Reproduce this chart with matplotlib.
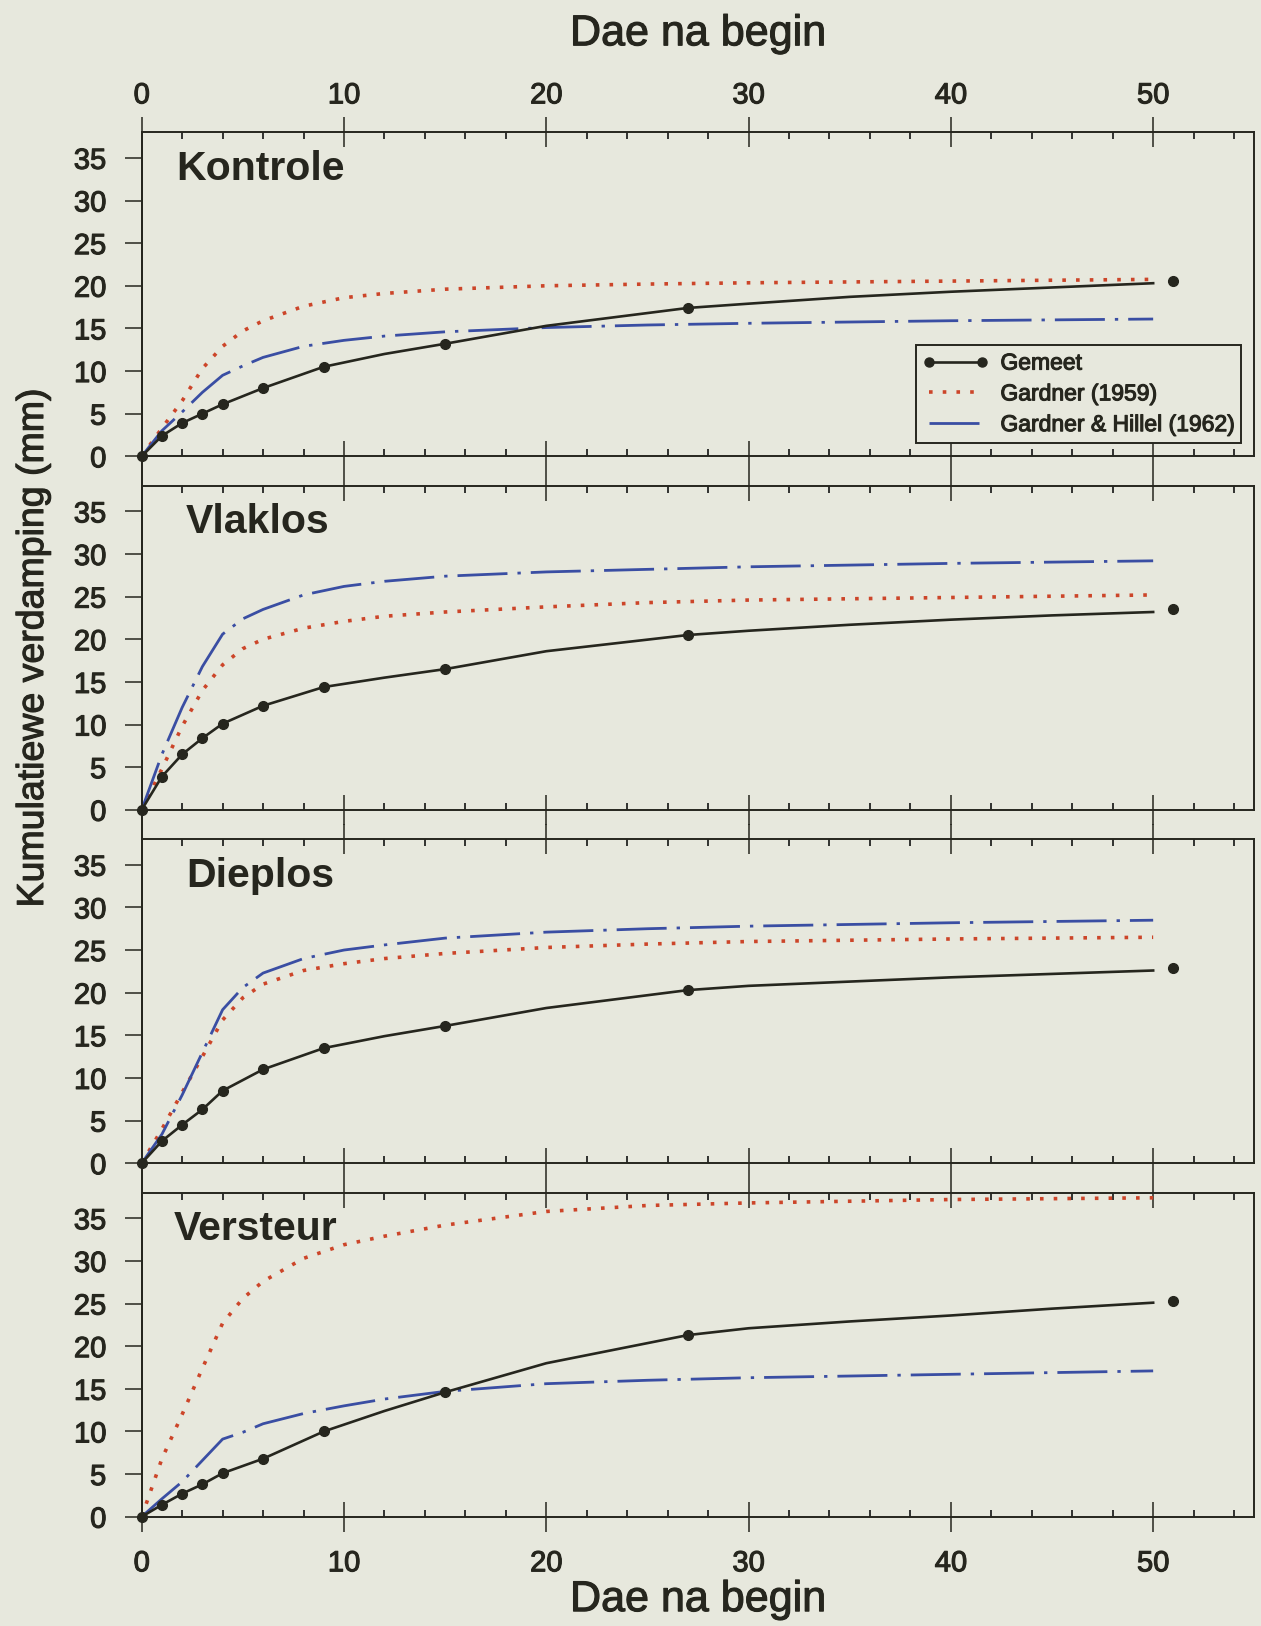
import numpy as np
import matplotlib.pyplot as plt
from matplotlib.lines import Line2D
from matplotlib import patheffects as pe

plt.rcParams['font.family'] = ['Liberation Sans', 'DejaVu Sans']

panele = ['Kontrole', 'Vlaklos', 'Dieplos', 'Versteur']

# gemete kumulatiewe verdamping (mm) op die meetdae
dae_gemeet = [0, 1, 2, 3, 4, 6, 9, 15, 27, 51]
gemeet_kontrole = [0, 2.4, 3.9, 5.0, 6.1, 8.0, 10.5, 13.2, 17.4, 20.6]
gemeet_vlaklos = [0, 3.9, 6.5, 8.4, 10.1, 12.2, 14.4, 16.5, 20.5, 23.5]
gemeet_dieplos = [0, 2.6, 4.5, 6.3, 8.5, 11.0, 13.5, 16.1, 20.3, 22.9]
gemeet_versteur = [0, 1.4, 2.7, 3.8, 5.1, 6.8, 10.0, 14.6, 21.3, 25.3]

# gladde lyn deur die metings, tot by dag 50
dae_lyn = [0, 1, 2, 3, 4, 6, 9, 12, 15, 20, 27, 30, 35, 40, 45, 50]
lyn_kontrole = [0, 2.4, 3.9, 5.0, 6.1, 8.0, 10.5, 12.0, 13.2, 15.3, 17.4, 17.9, 18.7, 19.3, 19.8, 20.3]
lyn_vlaklos = [0, 3.9, 6.5, 8.4, 10.1, 12.2, 14.4, 15.5, 16.5, 18.6, 20.5, 21.0, 21.7, 22.3, 22.8, 23.2]
lyn_dieplos = [0, 2.6, 4.5, 6.3, 8.5, 11.0, 13.5, 14.9, 16.1, 18.2, 20.3, 20.8, 21.3, 21.8, 22.2, 22.6]
lyn_versteur = [0, 1.4, 2.7, 3.8, 5.1, 6.8, 10.0, 12.4, 14.6, 18.0, 21.3, 22.1, 22.9, 23.6, 24.4, 25.1]

# modelvoorspellings
dae_model = [0, 1, 2, 3, 4, 5, 6, 8, 10, 12, 15, 20, 25, 30, 40, 50]
g59_kontrole = [0, 3.3, 6.5, 10.3, 12.9, 14.7, 15.9, 17.6, 18.6, 19.1, 19.6, 20.0, 20.2, 20.35, 20.55, 20.75]
g62_kontrole = [0, 3.0, 5.2, 7.5, 9.5, 10.6, 11.6, 12.9, 13.6, 14.1, 14.6, 15.1, 15.4, 15.6, 15.9, 16.1]
g59_vlaklos = [0, 4.8, 9.8, 14.0, 17.0, 18.9, 20.0, 21.3, 22.1, 22.7, 23.2, 23.8, 24.3, 24.6, 24.9, 25.2]
g62_vlaklos = [0, 6.5, 12.0, 16.8, 20.6, 22.4, 23.5, 25.2, 26.2, 26.8, 27.4, 27.9, 28.2, 28.5, 28.9, 29.2]
g59_dieplos = [0, 4.0, 8.3, 12.5, 16.8, 19.4, 21.0, 22.6, 23.4, 24.0, 24.6, 25.3, 25.7, 26.0, 26.3, 26.5]
g62_dieplos = [0, 3.4, 8.0, 13.0, 18.0, 20.6, 22.3, 24.0, 25.0, 25.6, 26.4, 27.1, 27.5, 27.8, 28.2, 28.5]
g59_versteur = [0, 6.8, 12.0, 17.4, 22.7, 25.6, 27.6, 30.3, 31.9, 32.9, 34.2, 35.8, 36.5, 36.8, 37.2, 37.4]
g62_versteur = [0, 2.1, 4.1, 6.6, 9.1, 9.9, 10.9, 12.1, 13.0, 13.8, 14.7, 15.6, 16.0, 16.3, 16.7, 17.1]

gemeet = [gemeet_kontrole, gemeet_vlaklos, gemeet_dieplos, gemeet_versteur]
lyne = [lyn_kontrole, lyn_vlaklos, lyn_dieplos, lyn_versteur]
g59 = [g59_kontrole, g59_vlaklos, g59_dieplos, g59_versteur]
g62 = [g62_kontrole, g62_vlaklos, g62_dieplos, g62_versteur]

papier = '#e7e8dd'
ink = '#26261e'
rooi = '#cc4529'
blou = '#3a4ea3'
dik = [pe.withStroke(linewidth=0.8, foreground=ink)]  # skandeerdruk lyk effens swaarder

fig = plt.figure(figsize=(12.61, 16.26), dpi=100, facecolor=papier)

# paneel-uitleg in figuurfraksies
links = 141.7 / 1261
breedte = 1112.6 / 1261
hoogte = 324 / 1626
onder = [1 - y / 1626 for y in (456.3, 809.8, 1163.2, 1516.7)]
titel_x = [1.7, 2.2, 2.2, 1.6]

asse = []
for i, naam in enumerate(panele):
    ax = fig.add_axes([links, onder[i], breedte, hoogte], facecolor=papier)
    asse.append(ax)

    ax.plot(dae_model, g59[i], color=rooi, lw=2.6, linestyle=(0, (1, 2.8)))
    ax.plot(dae_model, g62[i], color=blou, lw=2.0, linestyle=(0, (18, 3.6, 1.2, 3.6)))
    ax.plot(dae_lyn, lyne[i], color=ink, lw=1.9, clip_on=False, zorder=4)
    ax.plot(dae_gemeet, gemeet[i], 'o', color=ink, ms=7, clip_on=False, zorder=5)

    ax.text(titel_x[i], 33.7, naam, fontsize=29.5, fontweight='bold', color=ink,
            ha='left', va='center')

    ax.set_xlim(0, 55)
    ax.set_ylim(0, 38)
    ax.set_xticks(range(0, 51, 10))
    ax.set_xticks(np.arange(0, 55, 2), minor=True)
    ax.set_yticks(range(0, 36, 5))

    ax.tick_params(axis='x', which='major', direction='inout', length=21, width=1.1,
                   top=True, bottom=True, labeltop=(i == 0), labelbottom=(i == 3),
                   labelsize=21, colors=ink)
    ax.tick_params(axis='x', which='minor', direction='in', length=5, width=1.1,
                   top=True, bottom=True)
    ax.tick_params(axis='x', which='major', pad=(6 if i == 0 else 13))
    ax.tick_params(axis='y', which='major', direction='out', length=12.5, width=1.1,
                   pad=13, labelsize=21, colors=ink, right=False)
    for t in ax.xaxis.get_major_ticks() + ax.yaxis.get_major_ticks():
        t.label1.set_path_effects(dik)
        t.label2.set_path_effects(dik)
    for s in ax.spines.values():
        s.set_linewidth(1.4)
        s.set_color(ink)

# linkerrand loop deur die gapings tussen panele
fig.add_artist(Line2D([links, links], [onder[3], onder[0] + hoogte],
                      transform=fig.transFigure, color=ink, lw=1.4))

asse[0].xaxis.set_label_position('top')
asse[0].set_xlabel('Dae na begin', fontsize=31, color=ink, labelpad=26, path_effects=dik)
asse[3].set_xlabel('Dae na begin', fontsize=31, color=ink, labelpad=2, path_effects=dik)
fig.text(33 / 1261, 1 - 648 / 1626, 'Kumulatiewe verdamping (mm)', rotation=90,
         fontsize=27, color=ink, ha='center', va='center', path_effects=dik)

handvatsels = [
    Line2D([], [], color=ink, lw=1.9, marker='o', ms=6.5),
    Line2D([], [], color=rooi, lw=2.6, linestyle=(0, (1, 2.8))),
    Line2D([], [], color=blou, lw=2.0, linestyle=(0, (18, 3.6, 1.2, 3.6))),
]
leg = asse[0].legend(handvatsels, ['Gemeet', 'Gardner (1959)', 'Gardner & Hillel (1962)'],
                     loc='lower right', bbox_to_anchor=(0.988, 0.041), borderaxespad=0,
                     fontsize=16.5, numpoints=2, handlelength=2.9, handletextpad=0.5,
                     labelspacing=0.34, borderpad=0.3, fancybox=False, framealpha=1,
                     facecolor=papier, edgecolor=ink)
leg.get_frame().set_linewidth(1.4)
for t in leg.get_texts():
    t.set_color(ink)
    t.set_path_effects(dik)

fig.savefig('out.png', dpi=100, facecolor=papier)
